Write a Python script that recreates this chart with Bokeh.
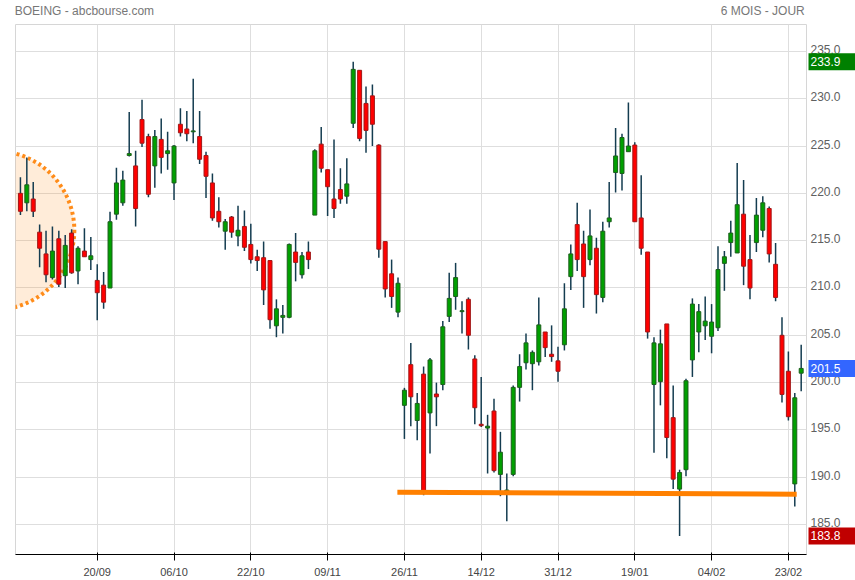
from bokeh.plotting import figure
from bokeh.models import (ColumnDataSource, Range1d, FixedTicker, LinearAxis, Grid)
from bokeh.layouts import row
from bokeh.embed import file_html
from bokeh.resources import INLINE
from bokeh.core.properties import value

# ---- data ----
opens = [220.0, 219.0, 219.4, 215.9, 213.6, 211.1, 215.2, 211.3, 215.8, 211.8,
         213.9, 213.0, 210.8, 210.3, 210.0, 217.8, 219.0, 224.0, 222.9, 227.8,
         226.0, 222.9, 225.7, 224.2, 221.1, 227.3, 226.8, 226.5, 226.0, 224.0,
         221.1, 218.1, 216.0, 217.5, 215.5, 216.5, 214.6, 213.3, 213.2, 212.9,
         206.0, 206.9, 206.9, 213.8, 211.4, 213.8, 217.7, 225.2, 222.5, 219.4,
         220.4, 219.7, 227.4, 233.0, 229.5, 230.3, 225.1, 214.9, 211.5, 207.45,
         197.6, 201.9, 196.0, 200.9, 196.8, 198.8, 199.8, 207.0, 209.1, 207.5,
         208.8, 202.5, 195.6, 195.2, 197.0, 190.3, 188.55, 190.3, 199.5, 202.1,
         202.0, 202.2, 205.35, 203.0, 202.3, 204.0, 211.2, 216.7, 214.65, 213.0,
         214.2, 209.0, 217.0, 222.2, 222.1, 224.4, 225.1, 217.4, 213.8, 199.8,
         200.1, 206.2, 196.3, 188.75, 190.8, 202.4, 205.35, 206.0, 204.9, 205.8,
         212.6, 214.8, 213.7, 217.8, 213.0, 214.8, 216.1, 218.4, 212.5, 205.0,
         201.2, 189.3, 201.0]
highs = [221.7, 223.8, 221.2, 216.7, 216.05, 216.5, 216.05, 215.6, 216.2, 214.4,
         216.3, 215.4, 212.5, 211.7, 218.05, 222.7, 222.4, 228.6, 224.5, 229.9,
         226.3, 226.7, 227.9, 226.5, 225.1, 229.0, 228.7, 232.1, 228.7, 224.4,
         222.1, 219.6, 217.3, 217.6, 218.7, 218.2, 216.8, 214.05, 214.9, 212.9,
         208.8, 208.2, 214.7, 215.8, 213.8, 214.9, 224.65, 227.0, 222.5, 225.7,
         222.65, 223.7, 233.9, 233.0, 231.3, 231.5, 225.2, 214.9, 213.0, 211.1,
         199.45, 204.2, 198.9, 201.7, 202.6, 200.0, 206.5, 211.6, 212.65, 208.6,
         209.0, 202.9, 200.6, 196.6, 198.3, 194.8, 190.4, 199.7, 203.0, 205.2,
         203.4, 209.0, 205.35, 206.05, 203.8, 210.5, 214.6, 219.0, 216.05, 218.3,
         215.3, 217.0, 221.2, 226.9, 226.3, 229.6, 225.4, 221.9, 213.8, 204.8,
         205.6, 206.2, 199.7, 190.8, 200.4, 208.9, 208.3, 209.1, 208.3, 214.4,
         213.9, 217.1, 223.2, 221.4, 215.6, 219.5, 219.7, 218.6, 214.75, 206.9,
         203.3, 198.9, 204.0]
lows = [217.7, 218.1, 217.5, 212.2, 210.6, 210.9, 210.1, 210.0, 211.5, 210.4,
        213.3, 211.9, 206.6, 207.8, 210.0, 217.2, 218.7, 223.9, 216.5, 224.9,
        219.6, 220.6, 222.1, 222.5, 219.3, 226.0, 225.5, 225.3, 223.1, 219.5,
        217.1, 216.4, 214.05, 215.3, 214.4, 213.9, 212.6, 211.8, 208.2, 205.7,
        204.8, 205.2, 206.8, 210.7, 211.0, 212.0, 217.7, 222.2, 217.6, 217.4,
        218.9, 218.9, 226.9, 225.5, 224.3, 225.0, 213.2, 209.0, 207.9, 206.9,
        194.05, 195.4, 193.9, 188.1, 192.5, 195.4, 199.2, 206.4, 207.7, 205.2,
        203.5, 195.6, 195.3, 190.4, 190.5, 188.0, 185.35, 190.1, 198.0, 201.4,
        199.2, 201.8, 202.7, 202.2, 200.1, 203.4, 209.8, 211.8, 207.9, 212.4,
        207.3, 208.5, 216.4, 220.1, 220.3, 224.4, 217.0, 213.5, 204.65, 192.6,
        197.6, 192.0, 188.75, 183.8, 190.1, 200.6, 203.2, 204.5, 203.1, 205.45,
        209.7, 213.3, 213.7, 210.3, 208.8, 213.8, 215.35, 212.7, 208.6, 197.9,
        196.0, 186.9, 199.1]
closes = [218.1, 220.9, 218.1, 214.2, 211.4, 213.9, 210.4, 214.5, 211.6, 214.2,
          213.3, 213.4, 209.5, 208.5, 217.0, 221.1, 221.4, 224.2, 218.4, 225.3,
          219.9, 226.0, 223.8, 224.5, 225.0, 226.4, 226.3, 226.6, 223.6, 221.8,
          217.4, 217.0, 217.0, 215.9, 216.1, 214.3, 213.0, 212.9, 209.8, 206.65,
          207.8, 207.1, 214.6, 212.7, 213.4, 213.0, 224.5, 222.65, 220.7, 218.4,
          219.4, 221.0, 233.1, 225.8, 226.65, 227.3, 214.1, 209.9, 209.1, 210.5,
          199.2, 198.5, 197.8, 188.5, 202.4, 198.5, 205.9, 208.9, 211.1, 207.6,
          205.0, 197.35, 195.45, 195.4, 190.7, 192.65, 188.65, 199.5, 201.7, 204.2,
          203.2, 206.1, 203.7, 202.75, 201.2, 207.8, 213.6, 213.0, 211.2, 215.5,
          209.3, 216.0, 217.4, 223.95, 225.9, 225.0, 217.0, 214.2, 205.35, 204.2,
          204.1, 194.2, 189.8, 190.5, 200.2, 208.3, 207.5, 206.5, 206.4, 211.95,
          213.3, 215.8, 218.8, 212.3, 210.0, 217.7, 219.0, 213.6, 209.0, 198.75,
          196.4, 198.4, 201.5]

tick_positions = [12, 24, 36, 48, 60, 72, 84, 96, 108, 120]
tick_labels = ["20/09", "06/10", "22/10", "09/11", "26/11",
               "14/12", "31/12", "19/01", "04/02", "23/02"]
price_ticks = [185, 190, 195, 200, 205, 210, 215, 220, 225, 230, 235]
header_texts = ["BOEING - abcbourse.com", "6 MOIS - JOUR"]

# highlighted zone (circle) and support line
zone_x = [-4.0]
zone_y = [216.1]
support_x = [58.9, 121.3]
support_y = [188.42, 188.21]

# ---- main chart ----
n = len(opens)
idx = list(range(n))
up = [c >= o for o, c in zip(opens, closes)]
src = ColumnDataSource(dict(
    x=idx, o=opens, h=highs, l=lows, c=closes,
    top=[max(o, c) for o, c in zip(opens, closes)],
    bot=[min(o, c) for o, c in zip(opens, closes)],
    fill=["#00a000" if u else "#ff0000" for u in up],
    edge=["#1d5e1d" if u else "#a01818" for u in up],
))

yr = Range1d(181.84, 237.84)
p = figure(width=807, height=580, title=None,
           x_range=Range1d(-0.77, 122.83), y_range=yr,
           y_axis_location=None, output_backend="svg", toolbar_location=None,
           min_border_left=15, min_border_top=23, min_border_right=1, min_border_bottom=25)
p.background_fill_color = "white"
p.border_fill_color = "white"
p.outline_line_color = "#d6d6d6"

# grids
p.xgrid.ticker = FixedTicker(ticks=tick_positions)
p.xgrid.grid_line_color = "#dedede"
p.ygrid.visible = False
p.add_layout(Grid(dimension=1, ticker=FixedTicker(ticks=price_ticks),
                  grid_line_color="#dedede"), "center")

# bottom axis (dates)
p.xaxis.ticker = FixedTicker(ticks=tick_positions)
p.xaxis.major_label_overrides = {t: lab for t, lab in zip(tick_positions, tick_labels)}

# header as a label-only axis on top
head_pos = [10, 116]
top_axis = LinearAxis(ticker=FixedTicker(ticks=head_pos),
                      major_label_overrides={t: s for t, s in zip(head_pos, header_texts)})
p.add_layout(top_axis, "above")

for ax in (p.xaxis[0], top_axis):
    ax.axis_line_color = None
    ax.major_tick_line_color = None
    ax.minor_tick_line_color = None
    ax.major_tick_out = 0
    ax.major_tick_in = 0
    ax.major_label_text_color = "#606060"
    ax.major_label_text_font = "Liberation Sans"
    ax.major_label_text_font_size = "12px"
p.xaxis[0].major_label_standoff = 2
top_axis.major_label_standoff = 7
top_axis.major_label_text_color = "#777777"

# zone circle
p.scatter(x=zone_x, y=zone_y, size=159, marker="circle",
          fill_color="#ff8000", fill_alpha=0.15,
          line_color="#ff8c1a", line_width=4, line_dash="3 3")

# candles
p.segment(x0="x", y0="l", x1="x", y1="h", source=src, line_color="#143c50", line_width=1.5)
p.vbar(x="x", width=0.62, top="top", bottom="bot", source=src,
       fill_color="fill", line_color="edge", line_width=1)

# support line
p.line(x=support_x, y=support_y, line_color="#ff8000", line_width=5)

# ---- right price scale panel (shares the price range) ----
b = figure(width=48, height=580, title=None, x_range=Range1d(0, 48), y_range=yr,
           x_axis_location=None, y_axis_location=None, output_backend="svg",
           toolbar_location=None, min_border_left=0, min_border_right=0,
           min_border_top=23, min_border_bottom=25)
b.background_fill_color = "white"
b.border_fill_color = "white"
b.outline_line_color = None
b.xgrid.visible = False
b.ygrid.visible = False

b.text(x=[3] * len(price_ticks), y=price_ticks, text=[f"{t:.1f}" for t in price_ticks],
       text_align="left", text_baseline="middle", y_offset=-2,
       text_font=value("Liberation Sans"), text_font_size="12px", text_color="#606060")

badge_vals = [max(highs), closes[-1], min(lows)]
badge_cols = ["#008000", "#3366ff", "#c00000"]
b.rect(x=[24.5] * 3, y=badge_vals, width=47, height=17, height_units="screen",
       fill_color=badge_cols, line_color=None)
b.text(x=[3] * 3, y=badge_vals, text=[f"{v:.1f}" for v in badge_vals],
       text_align="left", text_baseline="middle",
       text_font=value("Liberation Sans"), text_font_size="12px", text_color="white")

layout = row(p, b)
open("out.html", "w").write(file_html(layout, INLINE))
